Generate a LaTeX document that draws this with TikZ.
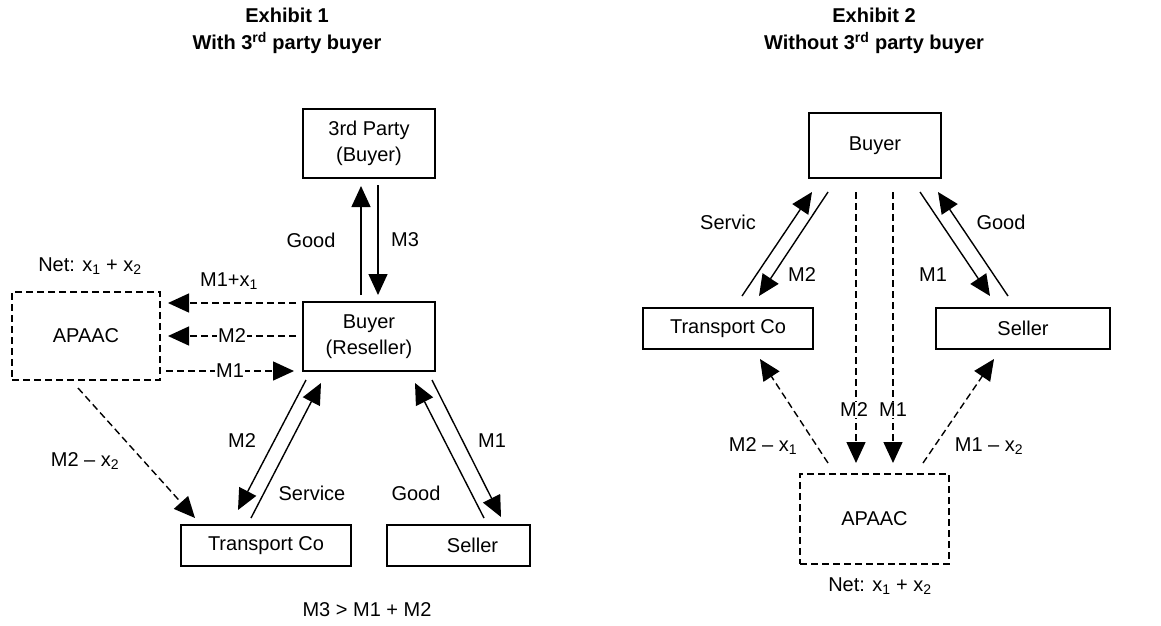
\documentclass[tikz,border=0pt]{standalone}
\usepackage{fontspec}
\setmainfont{Liberation Sans}
\usetikzlibrary{arrows.meta}
\begin{document}
\begin{tikzpicture}[x=1pt,y=-1pt,
  every node/.style={font=\fontsize{20}{26}\selectfont, inner sep=1pt},
  boxnode/.style={draw, line width=1.6pt, minimum width=#1, minimum height=41pt, inner sep=0pt, align=center},
  dbox/.style={draw, dash pattern=on 7pt off 4pt, line width=1.6pt, minimum width=#1, minimum height=88pt},
  flow/.style={line width=1.4pt, -{Triangle[length=21pt,width=19pt]}},
  dflow/.style={flow, dash pattern=on 7pt off 4pt},
  title/.style={font=\fontsize{20}{27}\selectfont\bfseries, align=center},
  onl/.style={fill=white, inner sep=1.5pt}]
\useasboundingbox (0,0) rectangle (1161,625);

% ---------- Exhibit 1 ----------
\node[title] (t1) at (287,31) {Exhibit 1\\With 3\textsuperscript{rd} party buyer};

\node[boxnode=132pt, minimum height=69pt] (third) at (369,143.5) {3rd Party\\(Buyer)};
\node[boxnode=132pt, minimum height=69pt] (resel) at (369,336.5) {Buyer\\(Reseller)};
\node[dbox=148pt] (apaac1) at (86,336) {APAAC};
\node[boxnode=170pt] (trans1) at (266,545.5) {Transport Co};
\node[boxnode=143pt] (sell1) at (458.5,545.5) {\hspace*{28pt}Seller};

\node (net1) at (90,266) {Net: x\textsubscript{1} + x\textsubscript{2}};
\node (cond) at (367,610) {M3 > M1 + M2};

% endpoints
\coordinate (a1) at (361,295); \coordinate (a2) at (361,186);
\coordinate (b1) at (378,185); \coordinate (b2) at (378,295);
\coordinate (c1) at (296,303); \coordinate (c2) at (168,303);
\coordinate (d1) at (296,336); \coordinate (d2) at (168,336);
\coordinate (e1) at (166,371); \coordinate (e2) at (294,371);
\coordinate (f1) at (306,380); \coordinate (f2) at (238,510);
\coordinate (g1) at (251,518); \coordinate (g2) at (321,383);
\coordinate (h1) at (484,518); \coordinate (h2) at (415,383);
\coordinate (i1) at (432,380); \coordinate (i2) at (501,517);
\coordinate (j1) at (78,388);  \coordinate (j2) at (195,518);

\draw[flow] (a1) -- (a2);
\draw[flow] (b1) -- (b2);
\node (lgood1) at (311,240) {Good};
\node (lm3) at (405,240) {M3};

\draw[dflow] (c1) -- (c2);
\node (lm1x1) at (229,281) {M1+x\textsubscript{1}};
\draw[dflow] (d1) -- (d2) node[onl, pos=0.5] (lm2a) {M2};
\draw[dflow] (e1) -- (e2) node[onl, pos=0.5] (lm1a) {M1};

\draw[flow] (f1) -- (f2);
\draw[flow] (g1) -- (g2);
\draw[flow] (h1) -- (h2);
\draw[flow] (i1) -- (i2);
\node (lm2b) at (242,441) {M2};
\node (lserv) at (312,493) {Service};
\node (lgood2) at (416,493) {Good};
\node (lm1b) at (492,441) {M1};

\draw[dflow] (j1) -- (j2);
\node (lm2x2) at (85,461) {M2 \textendash{} x\textsubscript{2}};

% ---------- Exhibit 2 ----------
\node[title] (t2) at (874,31) {Exhibit 2\\Without 3\textsuperscript{rd} party buyer};

\node[boxnode=132pt, minimum height=65pt] (buyer2) at (875,145.5) {Buyer};
\node[boxnode=170pt] (trans2) at (728,328.5) {Transport Co};
\node[boxnode=174pt] (sell2) at (1023,328.5) {Seller};
\node[dbox=149pt, minimum height=90pt] (apaac2) at (874.5,519) {APAAC};
\node (net2) at (880,586) {Net: x\textsubscript{1} + x\textsubscript{2}};

\coordinate (k1) at (742,296); \coordinate (k2) at (812,192);
\coordinate (l1) at (828,192); \coordinate (l2) at (759,296);
\coordinate (m1) at (1008,296); \coordinate (m2) at (938,192);
\coordinate (n1) at (920,192); \coordinate (n2) at (990,296);
\coordinate (o1) at (856,192); \coordinate (o2) at (856,463);
\coordinate (p1) at (893,192); \coordinate (p2) at (893,463);
\coordinate (q1) at (828,463); \coordinate (q2) at (760,359);
\coordinate (r1) at (923,463); \coordinate (r2) at (994,359);

\draw[flow] (k1) -- (k2);
\draw[flow] (l1) -- (l2);
\draw[flow] (m1) -- (m2);
\draw[flow] (n1) -- (n2);
\node (rserv) at (728,222) {Servic};
\node (rm2) at (802,275) {M2};
\node (rgood) at (1001,222) {Good};
\node (rm1) at (933,275) {M1};

\draw[dflow] (o1) -- (o2);
\draw[dflow] (p1) -- (p2);
\node[onl] (rm2v) at (854,410) {M2};
\node[onl] (rm1v) at (893,410) {M1};

\draw[dflow] (q1) -- (q2);
\draw[dflow] (r1) -- (r2);
\node (rm2x1) at (763,446) {M2 \textendash{} x\textsubscript{1}};
\node (rm1x2) at (989,446) {M1 \textendash{} x\textsubscript{2}};
\end{tikzpicture}
\end{document}
